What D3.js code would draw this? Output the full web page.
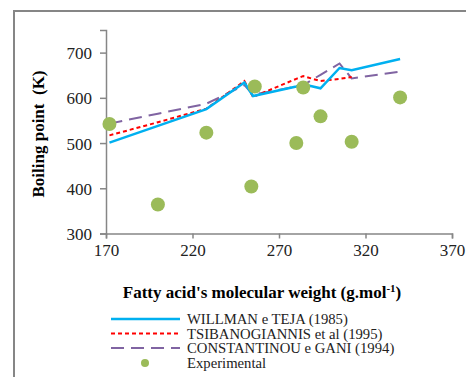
<!DOCTYPE html>
<html>
<head>
<meta charset="utf-8">
<title>Boiling point vs molecular weight</title>
<style>
  body { margin: 0; background: #fff; }
  text { font-family: "Liberation Serif", "Times New Roman", serif; }
</style>
<script src="https://d3js.org/d3.v7.min.js"></script>
</head>
<body>
<svg width="466" height="377"></svg>
<script>
// molecular weights used by the model lines
var lineMW = [172, 200, 228, 250, 255, 280, 284, 294, 305, 312, 340];
var willman = [501, 538, 575, 634, 604, 625, 630, 621, 666, 661, 686];
var tsiban = [517, 546, 576, 637, 602, 642, 648, 637, 642, 646, null];
var constan = [543, 565, 587, 628, 607, 625, 628, 651, 676, 643, 658];

// experimental points
var expMW = [172, 200, 228, 254, 256, 280, 284, 294, 312, 340];
var expBP = [542, 364, 523, 404, 625, 500, 623, 559, 503, 601];

var xTicks = [170, 220, 270, 320, 370];
var yTicks = [300, 400, 500, 600, 700];

var seriesNames = ["WILLMAN e TEJA (1985)", "TSIBANOGIANNIS et al (1995)",
                   "CONSTANTINOU e GANI (1994)", "Experimental"];

var svg = d3.select("svg");
var axisColor = "#868686";

// outer frame (right and bottom edges run off the picture)
svg.append("path")
  .attr("d", "M14,377V11H466")
  .attr("fill", "none")
  .attr("stroke", axisColor)
  .attr("stroke-width", 2);

var x = d3.scaleLinear().domain([170, 370]).range([106, 452]);
var y = d3.scaleLinear().domain([300, 750]).range([233.5, 30]);

var xAxis = svg.append("g")
  .attr("transform", "translate(0," + y(300) + ")")
  .call(d3.axisBottom(x).tickValues(xTicks).tickSize(5).tickPadding(5));
var yAxis = svg.append("g")
  .attr("transform", "translate(" + x(170) + ",0)")
  .call(d3.axisLeft(y).tickValues(yTicks).tickSize(6).tickPadding(8));

[xAxis, yAxis].forEach(function(a) {
  a.attr("font-family", null).attr("font-size", null);
  a.select(".domain").attr("stroke", axisColor).attr("stroke-width", 1.5);
  a.selectAll(".tick line").attr("stroke", axisColor).attr("stroke-width", 1.5);
  a.selectAll(".tick text")
    .attr("font-size", 17)
    .attr("fill", "#222");
});
yAxis.selectAll(".tick text").attr("dy", "0.35em");

// axis titles
var xt = svg.append("text")
  .attr("x", 262).attr("y", 298)
  .attr("text-anchor", "middle")
  .attr("font-size", 17).attr("font-weight", "bold");
xt.append("tspan").text("Fatty acid's molecular weight (g.mol");
xt.append("tspan").attr("font-size", 11).attr("dy", -6).text("-1");
xt.append("tspan").attr("dy", 6).text(")");

svg.append("text")
  .attr("transform", "translate(44,134) rotate(-90)")
  .attr("text-anchor", "middle")
  .attr("font-size", 17).attr("font-weight", "bold")
  .attr("xml:space", "preserve")
  .text("Boiling point  (K)");

var styles = [
  { color: "#00b0f0", width: 2.5, dash: null },
  { color: "#ff0000", width: 2, dash: "4,3" },
  { color: "#8064a2", width: 2, dash: "13,7" }
];
var seriesVals = [willman, tsiban, constan];

var line = d3.line()
  .defined(function(d) { return d[1] != null; })
  .x(function(d) { return x(d[0]); })
  .y(function(d) { return y(d[1]); });

// draw purple first, then red, then blue on top
[2, 1, 0].forEach(function(i) {
  svg.append("path")
    .datum(lineMW.map(function(m, j) { return [m, seriesVals[i][j]]; }))
    .attr("d", line)
    .attr("fill", "none")
    .attr("stroke", styles[i].color)
    .attr("stroke-width", styles[i].width)
    .attr("stroke-dasharray", styles[i].dash);
});

svg.selectAll(".pt")
  .data(expMW.map(function(m, j) { return [m, expBP[j]]; }))
  .enter().append("circle")
  .attr("class", "pt")
  .attr("cx", function(d) { return x(d[0]); })
  .attr("cy", function(d) { return y(d[1]); })
  .attr("r", 7)
  .attr("fill", "#9bbb59");

// legend
var legY = [319, 333.5, 348, 363];
seriesNames.forEach(function(name, i) {
  if (i < 3) {
    svg.append("line")
      .attr("x1", 111).attr("x2", 180)
      .attr("y1", legY[i]).attr("y2", legY[i])
      .attr("stroke", styles[i].color)
      .attr("stroke-width", styles[i].width)
      .attr("stroke-dasharray", styles[i].dash);
  } else {
    svg.append("circle")
      .attr("cx", 145).attr("cy", legY[i]).attr("r", 4)
      .attr("fill", "#9bbb59");
  }
  svg.append("text")
    .attr("x", 187).attr("y", legY[i] + 5)
    .attr("font-size", 14.7)
    .attr("fill", "#222")
    .text(name);
});
</script>
</body>
</html>
